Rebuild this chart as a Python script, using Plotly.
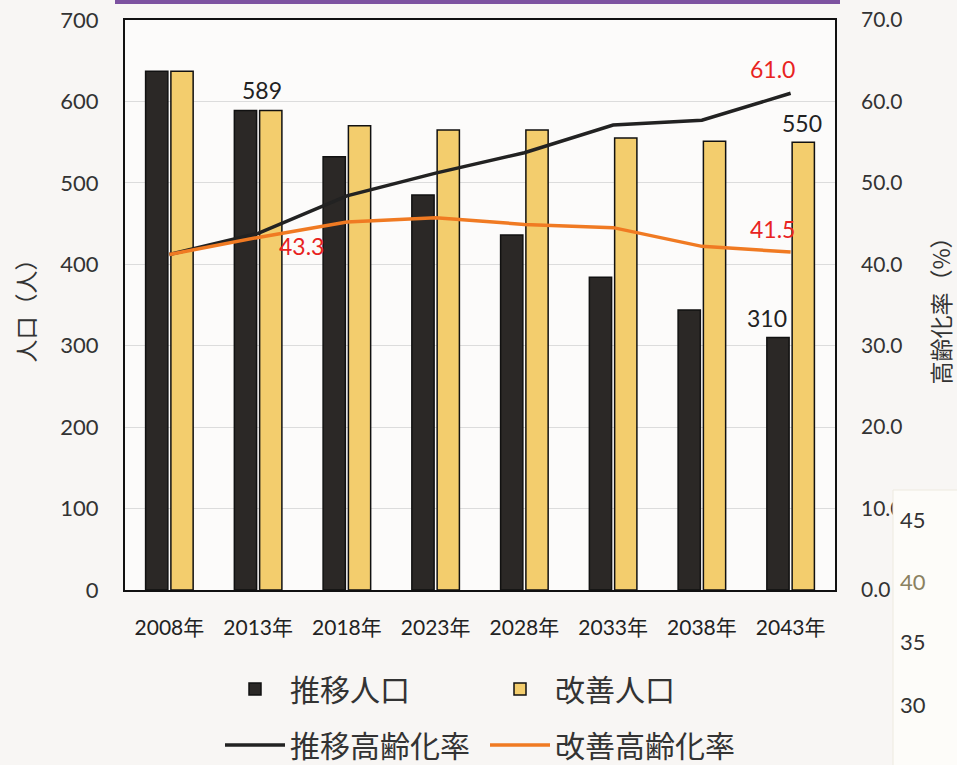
import plotly.graph_objects as go

# ---- data ----
years = ["2008年", "2013年", "2018年", "2023年", "2028年", "2033年", "2038年", "2043年"]
pop_trend = [637, 589, 532, 485, 436, 384, 344, 310]        # 推移人口
pop_improved = [637, 589, 570, 565, 565, 555, 551, 550]     # 改善人口
rate_trend = [41.2, 43.8, 48.4, 51.2, 53.7, 57.1, 57.7, 61.0]    # 推移高齢化率
rate_improved = [41.2, 43.3, 45.2, 45.7, 44.9, 44.5, 42.2, 41.5]  # 改善高齢化率
left_ticks = [0, 100, 200, 300, 400, 500, 600, 700]
right_ticks = [0, 10, 20, 30, 40, 50, 60, 70]
overlay_ticks = ["45", "40", "35", "30"]

FONT = "Lato, 'Noto Sans CJK JP', sans-serif"
CJK = "'Noto Sans CJK JP', sans-serif"
TXT = "#333333"
W, H = 957, 765

fig = go.Figure()
fig.add_trace(go.Bar(
    x=years, y=pop_trend, name="推移人口", legend="legend",
    marker=dict(color="#2b2826", line=dict(color="#111111", width=1.5)),
))
fig.add_trace(go.Bar(
    x=years, y=pop_improved, name="改善人口", legend="legend",
    marker=dict(color="#f3cd6d", line=dict(color="#111111", width=1.5)),
))
fig.add_trace(go.Scatter(
    x=years, y=rate_trend, name="推移高齢化率", yaxis="y2", mode="lines",
    line=dict(color="#222222", width=3.5), legend="legend2",
))
fig.add_trace(go.Scatter(
    x=years, y=rate_improved, name="改善高齢化率", yaxis="y2", mode="lines",
    line=dict(color="#f07a22", width=3.5), legend="legend2",
))

ann = []
def blab(text, x, y, xs, ys):
    ann.append(dict(x=x, y=y, xref="x", yref="y", text=text, showarrow=False,
                    xshift=xs, yshift=ys, font=dict(size=23, color="#222222", family=FONT)))
blab(str(pop_improved[1]), years[1], pop_improved[1], 4, 20)
blab(str(pop_trend[7]), years[7], pop_trend[7], -24, 20)
blab(str(pop_improved[7]), years[7], pop_improved[7], 11, 19)

def rlab(text, x, y, xs, ys):
    ann.append(dict(x=x, y=y, xref="x", yref="y2", text=text, showarrow=False,
                    xshift=xs, yshift=ys, font=dict(size=23, color="#e8231f", family=FONT)))
rlab(f"{rate_trend[7]:.1f}", years[7], rate_trend[7], -18, 24)
rlab(f"{rate_improved[7]:.1f}", years[7], rate_improved[7], -18, 23)
rlab(f"{rate_improved[1]:.1f}", years[1], rate_improved[1], 43, -9)

# overlay labels from the adjacent chart in the scan
ov_y = [523, 585, 645, 708]
for t, py in zip(overlay_ticks, ov_y):
    ann.append(dict(x=(928 - 125) / 710, y=(590 - py) / 570, xref="paper", yref="paper",
                    text=t, showarrow=False, yshift=-12,
                    font=dict(size=22, color="#8a8160" if t == "40" else "#333333", family=FONT)))

shapes = [
    dict(type="line", xref="paper", yref="paper", x0=(115 - 125) / 710, x1=(840 - 125) / 710,
         y0=(590 - 2) / 570, y1=(590 - 2) / 570, line=dict(color="#7d52a0", width=4)),
    dict(type="rect", xref="paper", yref="paper", layer="above",
         x0=(893 - 125) / 710, x1=(960 - 125) / 710, y0=(590 - 490) / 570, y1=(590 - 770) / 570,
         fillcolor="#fdfcf9", line=dict(color="#eeeae0", width=1)),
]

leg_common = dict(orientation="h", xref="container", yref="container", xanchor="left",
                  yanchor="middle", font=dict(size=30, family=CJK, color=TXT),
                  entrywidth=190, entrywidthmode="pixels", itemwidth=60,
                  bgcolor="rgba(0,0,0,0)", traceorder="normal")

fig.update_layout(
    width=W, height=H,
    margin=dict(l=125, r=122, t=20, b=175, autoexpand=False),
    paper_bgcolor="#f8f6f4", plot_bgcolor="#fcfbfa",
    barmode="group", bargap=0.43, bargroupgap=0.12,
    font=dict(family=FONT, color=TXT),
    xaxis=dict(type="category", showline=True, linecolor="#111111", linewidth=2, mirror=True,
               ticks="", tickfont=dict(size=21, family=FONT, color="#222222"),
               ticklabelstandoff=18),
    yaxis=dict(range=[0, 700], tickvals=left_ticks, showgrid=True, gridcolor="#dcdcdc",
               showline=True, linecolor="#111111", linewidth=2, mirror=True, zeroline=False,
               tickfont=dict(size=22, color=TXT), ticklabelstandoff=20,
               title=dict(text="人口（人）", font=dict(size=23, family=CJK, color=TXT), standoff=18)),
    yaxis2=dict(range=[0, 70], tickvals=right_ticks, tickformat=".1f", overlaying="y", side="right",
                showgrid=False, zeroline=False, tickfont=dict(size=21, color=TXT), ticklabelstandoff=25,
                title=dict(text="高齢化率（%）", font=dict(size=23, family=CJK, color=TXT), standoff=35)),
    legend=dict(x=220 / W, y=1 - 689 / H, **leg_common),
    legend2=dict(x=220 / W, y=1 - 745 / H, **leg_common),
    annotations=ann, shapes=shapes,
)

fig.write_html("out.html")
